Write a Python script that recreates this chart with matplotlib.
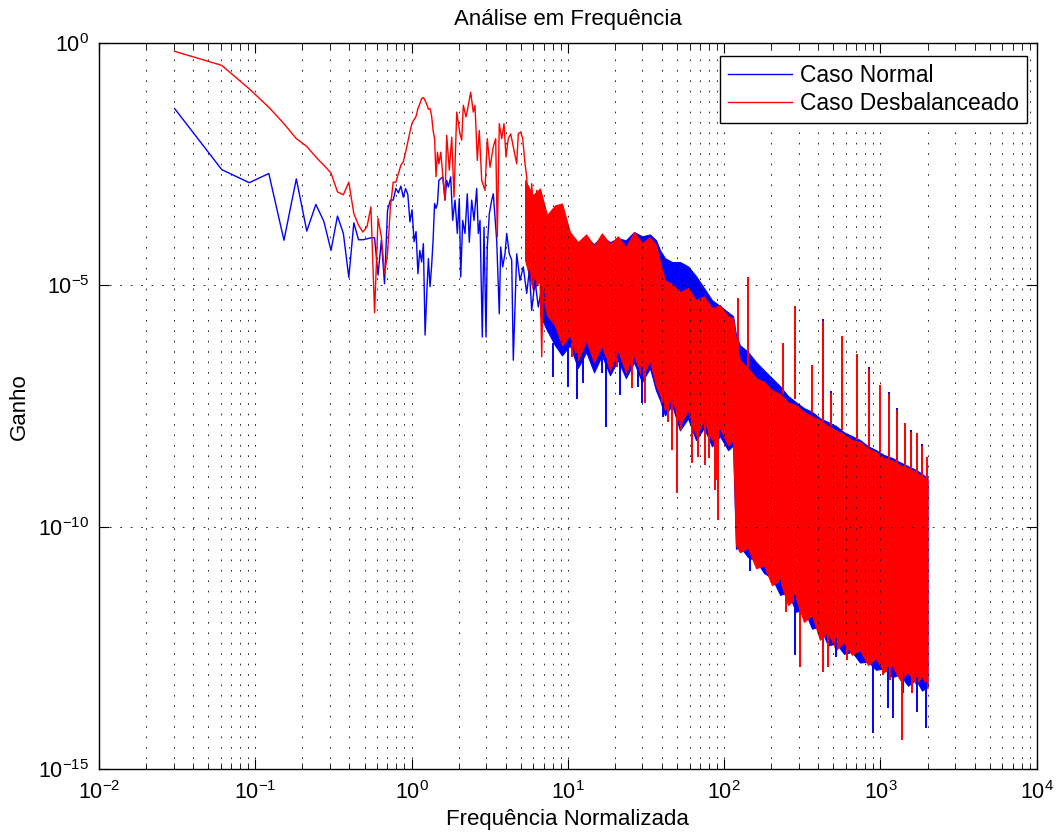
import matplotlib
matplotlib.use("Agg")
import matplotlib.pyplot as plt
from matplotlib.ticker import FixedLocator, LogLocator, NullLocator, NullFormatter
import numpy as np

plt.rcParams["font.family"] = ["Liberation Sans", "DejaVu Sans"]
plt.rcParams["mathtext.fontset"] = "custom"
plt.rcParams["mathtext.rm"] = "Liberation Sans"
plt.rcParams["mathtext.it"] = "Liberation Sans:italic"

BLUE = "#0000ff"
RED = "#ff0000"

# ---- dados (ganhos guardados como log10) ----
# trecho de baixa frequência, um ponto por bin
low_freq = [0.0305, 0.061, 0.0915, 0.122, 0.1525, 0.183, 0.2135, 0.244, 0.2745, 0.305,
            0.3355, 0.366, 0.3965, 0.427, 0.4575, 0.488, 0.5185, 0.549, 0.5795, 0.61,
            0.6405, 0.671, 0.7015, 0.732, 0.7625, 0.793, 0.8235, 0.854, 0.8845, 0.915,
            0.9455, 0.976, 1.0065, 1.037, 1.0675, 1.098, 1.1285, 1.159, 1.1895, 1.22,
            1.2505, 1.281, 1.3115, 1.342, 1.3725, 1.403, 1.4335, 1.464, 1.4945]
normal_low = [-1.35, -2.61, -2.88, -2.69, -4.07, -2.80, -3.88, -3.33, -3.68, -4.28,
              -3.57, -3.93, -4.84, -3.71, -4.06, -4.06, -4.04, -4.02, -4.02, -4.79,
              -4.07, -4.97, -3.45, -3.24, -3.24, -3.00, -3.09, -2.95, -3.18, -3.00,
              -3.12, -3.69, -3.44, -4.10, -3.89, -4.76, -4.28, -4.52, -4.14, -6.03,
              -5.17, -4.45, -5.03, -4.62, -4.07, -3.31, -3.41, -3.31, -2.83]
desbal_low = [-0.165, -0.455, -0.94, -1.32, -1.66, -1.97, -2.13, -2.35, -2.52, -2.68,
              -3.07, -3.13, -2.87, -3.52, -3.76, -3.90, -3.79, -3.38, -5.57, -3.62,
              -4.00, -4.76, -4.35, -3.38, -2.87, -2.87, -2.69, -2.52, -2.45, -2.25,
              -2.04, -1.83, -1.65, -1.58, -1.51, -1.35, -1.25, -1.14, -1.12, -1.18,
              -1.26, -1.36, -1.35, -1.49, -1.80, -1.97, -2.76, -2.25, -2.49]

# trecho intermediário (picos e vales lidos)
normal_mid_freq = [1.581, 1.636, 1.677, 1.717, 1.779, 1.832, 1.896, 1.962, 2.019, 2.062,
                   2.123, 2.196, 2.272, 2.340, 2.424, 2.507, 2.609, 2.672, 2.740, 2.834,
                   2.906, 2.992, 3.050, 3.142, 3.256, 3.332, 3.416, 3.503, 3.640, 3.716,
                   3.827, 3.959, 4.060, 4.218, 4.370, 4.474, 4.704, 4.938, 5.182, 5.452,
                   5.665, 5.868, 6.160, 6.467, 6.803, 7.140]
normal_mid = [-2.76, -3.24, -2.83, -2.97, -2.76, -3.66, -3.24, -3.93, -3.21, -4.83,
              -3.66, -3.93, -3.11, -4.11, -3.24, -3.66, -3.00, -3.93, -3.66, -6.07,
              -3.80, -6.07, -4.21, -3.52, -3.24, -3.11, -3.59, -4.07, -5.59, -4.21,
              -4.62, -4.35, -3.93, -4.35, -4.48, -6.55, -4.35, -4.90, -4.62, -5.17,
              -4.69, -5.52, -4.90, -5.45, -5.04, -5.24]
desbal_mid_freq = [1.536, 1.636, 1.677, 1.743, 1.806, 1.868, 1.944, 2.040, 2.092, 2.142,
                   2.229, 2.286, 2.388, 2.482, 2.545, 2.633, 2.711, 2.809, 2.949, 3.050,
                   3.174, 3.332, 3.452, 3.534, 3.640, 3.771, 3.901, 4.018, 4.156, 4.306,
                   4.474, 4.704, 4.817, 4.990, 5.140, 5.317, 5.452, 5.665, 5.868, 6.070,
                   6.317, 6.564, 6.803, 7.036, 7.320]
desbal_mid = [-2.25, -3.24, -1.90, -2.62, -1.94, -3.18, -1.42, -1.87, -2.00, -1.28,
              -1.52, -1.35, -1.01, -1.42, -1.28, -2.42, -1.80, -2.83, -3.04, -1.97,
              -2.56, -2.14, -1.97, -4.00, -1.66, -1.97, -1.66, -2.35, -1.97, -1.87,
              -2.14, -2.49, -1.87, -1.83, -1.97, -2.49, -2.76, -4.62, -2.90, -3.66,
              -3.04, -4.07, -6.48, -3.52, -3.66]

# faixa densa: envoltórias superior/inferior lidas
band_freq = [5.32, 5.98, 6.63, 7.35, 8.27, 9.17, 10.3, 11.6, 13.1, 14.7,
             16.5, 18.6, 20.9, 23.5, 26.5, 29.8, 33.5, 36.6, 38.9, 41.8,
             46.4, 52.1, 58.7, 66.0, 74.3, 83.6, 94.0, 106, 114, 119,
             126, 142, 160, 180, 202, 228, 256, 288, 324, 365,
             410, 462, 519, 584, 657, 740, 832, 936, 1053, 1185,
             1333, 1500, 1687, 1843, 2000]
desbal_band_hi = [-2.83, -3.14, -3.00, -3.55, -3.35, -3.31, -3.90, -4.11, -3.95, -4.19,
                  -3.93, -4.15, -3.99, -4.21, -3.90, -4.13, -4.01, -4.17, -4.52, -4.90,
                  -4.98, -5.14, -5.06, -5.31, -5.23, -5.48, -5.41, -5.64, -5.68, -6.14,
                  -6.55, -6.71, -6.92, -7.00, -7.17, -7.25, -7.42, -7.48, -7.62, -7.71,
                  -7.79, -7.91, -8.00, -8.08, -8.20, -8.24, -8.37, -8.45, -8.57, -8.62,
                  -8.72, -8.78, -8.86, -8.95, -9.03]
desbal_band_lo = [-4.48, -5.10, -4.90, -5.62, -5.83, -6.24, -6.03, -6.55, -6.14, -6.59,
                  -6.24, -6.76, -6.34, -6.80, -6.45, -6.92, -6.55, -7.07, -7.27, -7.58,
                  -7.33, -7.89, -7.58, -8.10, -7.79, -8.20, -7.95, -8.31, -8.20, -10.37,
                  -10.52, -10.43, -10.85, -10.79, -11.20, -11.10, -11.61, -11.47, -11.96, -11.82,
                  -12.33, -12.17, -12.54, -12.38, -12.64, -12.54, -12.85, -12.71, -13.00, -12.85,
                  -13.16, -13.00, -13.24, -13.08, -13.33]
# a faixa azul começa no terceiro ponto da grade
normal_band_hi = [-4.17, -4.38, -4.07, -4.24, -4.07, -4.17, -4.03, -4.15,
                  -3.99, -4.11, -4.03, -4.07, -3.90, -3.99, -3.95, -4.07, -4.28, -4.44,
                  -4.52, -4.52, -4.61, -4.81, -5.06, -5.31, -5.43, -5.56, -5.64, -6.03,
                  -6.24, -6.38, -6.59, -6.76, -6.92, -7.09, -7.29, -7.42, -7.54, -7.62,
                  -7.75, -7.83, -7.91, -8.04, -8.12, -8.20, -8.33, -8.41, -8.51, -8.57,
                  -8.66, -8.74, -8.82, -8.90, -8.99]
normal_band_lo = [-5.62, -5.93, -6.24, -6.45, -6.24, -6.71, -6.38, -6.80,
                  -6.45, -6.86, -6.55, -6.92, -6.59, -7.00, -6.71, -7.17, -7.38, -7.69,
                  -7.48, -8.00, -7.75, -8.20, -7.95, -8.33, -8.12, -8.41, -8.31, -10.45,
                  -10.40, -10.62, -10.70, -10.95, -11.05, -11.40, -11.35, -11.75, -11.70, -12.10,
                  -12.05, -12.45, -12.40, -12.62, -12.58, -12.80, -12.78, -12.95, -12.92, -13.10,
                  -13.05, -13.28, -13.15, -13.38, -13.30]

# picos isolados: frequência, base e ponta
normal_dn_freq = [8.03, 10.0, 11.4, 12.5, 16.5, 17.5, 21.5, 28.0, 29.8, 40.9,
                  146, 227, 284, 429, 519, 895, 1113, 1202, 1393, 1712, 1955]
normal_dn_base = [-6.2, -6.3, -6.4, -6.4, -6.5, -6.5, -6.6, -6.7, -6.7, -7.2,
                  -10.6, -11.1, -11.4, -12.0, -12.3, -12.8, -12.9, -12.95, -13.0, -13.1, -13.2]
normal_dn_tip = [-6.90, -7.11, -7.36, -7.03, -6.82, -7.93, -7.27, -7.11, -7.44, -7.73,
                 -10.90, -11.30, -12.65, -12.48, -12.69, -14.26, -13.74, -13.95, -13.43, -13.82, -14.15]
normal_up_freq = [429, 482, 844, 1133, 1275, 1568, 1845]
normal_up_base = [-7.8, -7.9, -8.35, -8.6, -8.7, -8.85, -8.95]
normal_up_tip = [-5.70, -7.18, -6.70, -7.21, -7.54, -8.00, -8.29]

desbal_dn_freq = [10.7, 20.6, 25.7, 31.1, 40.0, 43.7, 46.3, 49.9, 52.9, 62.2,
                  68.0, 75.4, 80.0, 87.4, 89.9, 91.3, 250, 305, 429, 462,
                  615, 1038, 1150, 1373, 1600]
desbal_dn_base = [-6.2, -6.5, -6.5, -6.6, -7.2, -7.3, -7.4, -7.5, -7.6, -7.7,
                  -7.75, -7.85, -7.9, -7.95, -8.0, -8.0, -11.3, -11.5, -12.0, -12.1,
                  -12.4, -12.8, -12.85, -12.9, -13.0]
desbal_dn_tip = [-6.49, -6.69, -7.13, -7.44, -7.44, -7.83, -8.41, -9.30, -8.00, -8.68,
                 -8.55, -8.72, -8.57, -9.24, -9.03, -9.86, -11.76, -12.89, -13.00, -12.89,
                 -12.75, -13.06, -13.16, -14.40, -13.43]
desbal_up_freq = [122, 141, 238, 284, 365, 429, 482, 567, 708, 844, 993, 1133, 1275, 1435,
                  1568, 1712, 1845, 1983]
desbal_up_base = [-6.3, -6.7, -7.25, -7.35, -7.65, -7.8, -7.9, -8.0, -8.2, -8.35, -8.45, -8.6,
                  -8.7, -8.78, -8.85, -8.9, -8.95, -9.0]
desbal_up_tip = [-5.27, -4.83, -6.20, -5.43, -6.65, -5.74, -7.23, -6.05, -6.43, -6.74, -7.07,
                 -7.25, -7.58, -7.85, -8.04, -8.06, -8.33, -8.55]

x_ticks = [1e-2, 1e-1, 1e0, 1e1, 1e2, 1e3, 1e4]
y_ticks = [1e-15, 1e-10, 1e-5, 1e0]


def g(v):
    return 10.0 ** np.asarray(v)


fig = plt.figure(figsize=(10.59, 8.34), dpi=100)
ax = fig.add_axes([0.0935, 0.078, 0.8855, 0.870])
ax.set_xscale("log")
ax.set_yscale("log")

series = [
    ("Caso Normal", BLUE, normal_low, normal_mid_freq, normal_mid,
     band_freq[2:], normal_band_hi, normal_band_lo,
     (normal_dn_freq, normal_dn_base, normal_dn_tip),
     (normal_up_freq, normal_up_base, normal_up_tip)),
    ("Caso Desbalanceado", RED, desbal_low, desbal_mid_freq, desbal_mid,
     band_freq, desbal_band_hi, desbal_band_lo,
     (desbal_dn_freq, desbal_dn_base, desbal_dn_tip),
     (desbal_up_freq, desbal_up_base, desbal_up_tip)),
]

for label, color, low, mfreq, mid, bfreq, bhi, blo, dn, up in series:
    ax.plot(low_freq + mfreq, g(low + mid), color=color, lw=1.0, label=label)
    ax.fill_between(bfreq, g(blo), g(bhi), facecolor=color, edgecolor=color, lw=0.8)
    for f, b, t in (dn, up):
        ax.vlines(f, g(b), g(t), color=color, lw=1.4)

ax.set_xlim(1e-2, 1e4)
ax.set_ylim(1e-15, 1e0)
ax.yaxis.set_major_locator(FixedLocator(y_ticks))
ax.yaxis.set_minor_locator(NullLocator())
ax.xaxis.set_major_locator(FixedLocator(x_ticks))
ax.xaxis.set_minor_locator(LogLocator(base=10, subs=np.arange(2, 10), numticks=100))
ax.xaxis.set_minor_formatter(NullFormatter())

dots = (0, (2, 10.5))
ax.grid(True, which="major", axis="both", color="k", lw=0.6, linestyle=dots)
ax.grid(True, which="minor", axis="x", color="k", lw=0.6, linestyle=dots)
ax.tick_params(which="both", direction="in", top=True, right=True, labelsize=15.5)
ax.tick_params(which="major", length=7)
ax.tick_params(which="minor", length=4)
ax.tick_params(axis="x", which="major", pad=9)
ax.tick_params(axis="y", which="major", pad=7)
for s in ax.spines.values():
    s.set_linewidth(1.0)

ax.set_title("Análise em Frequência", fontsize=16, pad=13)
ax.set_xlabel("Frequência Normalizada", fontsize=16, labelpad=3)
ax.set_ylabel("Ganho", fontsize=16, labelpad=6)

leg = ax.legend(loc="upper right", bbox_to_anchor=(0.990, 0.983), borderaxespad=0,
                fontsize=16.5, fancybox=False, framealpha=1, edgecolor="k",
                handlelength=2.8, handletextpad=0.35, labelspacing=0.25, borderpad=0.35)
leg.get_frame().set_linewidth(1.0)

fig.savefig("out.png", dpi=100)
